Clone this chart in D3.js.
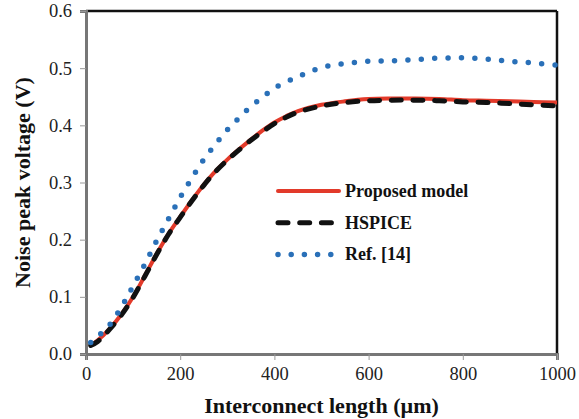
<!DOCTYPE html>
<html lang="en">
<head>
<meta charset="UTF-8">
<title>Noise peak voltage vs interconnect length</title>
<script src="https://d3js.org/d3.v7.min.js"></script>
<style>
    body, html {
        margin: 0;
        background: #fff;
    }
    svg {
        display: block;
    }
    svg text {
        font-family: "Liberation Serif", "Times New Roman", Times, serif;
    }
    .tick text {
        font-size: 18.5px;
        fill: #222;
    }
    .title {
        font-size: 22px;
        font-weight: bold;
        fill: #111;
    }
    .legend text {
        font-size: 18px;
        font-weight: bold;
        fill: #111;
    }
</style>
</head>
<body>
<script>
    // interconnect length (um) and noise peak voltage (V)
    const proposedX = [10, 25, 50, 75, 100, 125, 150, 175, 200, 225, 250, 275, 300, 325, 350, 375, 400, 425, 450, 500, 550, 600, 650, 700, 750, 800, 850, 900, 950, 1000];
    const proposedY = [0.015, 0.024, 0.044, 0.069, 0.100, 0.137, 0.175, 0.210, 0.240, 0.269, 0.296, 0.320, 0.340, 0.358, 0.375, 0.391, 0.405, 0.416, 0.425, 0.436, 0.442, 0.446, 0.447, 0.447, 0.446, 0.444, 0.443, 0.442, 0.441, 0.440];

    const hspiceX = [10, 25, 50, 75, 100, 125, 150, 175, 200, 225, 250, 275, 300, 325, 350, 375, 400, 425, 450, 500, 550, 600, 650, 700, 750, 800, 850, 900, 950, 1000];
    const hspiceY = [0.015, 0.022, 0.043, 0.068, 0.099, 0.136, 0.174, 0.209, 0.239, 0.268, 0.295, 0.319, 0.339, 0.357, 0.374, 0.389, 0.403, 0.414, 0.423, 0.434, 0.440, 0.443, 0.444, 0.444, 0.443, 0.441, 0.440, 0.438, 0.436, 0.434];

    const refX = [10, 50, 80, 100, 125, 150, 175, 200, 225, 250, 275, 300, 325, 350, 375, 400, 450, 500, 550, 600, 650, 700, 750, 800, 850, 900, 950, 1000];
    const refY = [0.020, 0.051, 0.089, 0.119, 0.157, 0.198, 0.236, 0.274, 0.308, 0.340, 0.367, 0.392, 0.413, 0.433, 0.449, 0.465, 0.485, 0.501, 0.508, 0.512, 0.513, 0.515, 0.5175, 0.518, 0.516, 0.512, 0.509, 0.505];

    const xTicks = [0, 200, 400, 600, 800, 1000];
    const yTicks = [0.0, 0.1, 0.2, 0.3, 0.4, 0.5, 0.6];
    const legendNames = ["Proposed model", "HSPICE", "Ref. [14]"];

    const width = 579, height = 419;
    const margin = {top: 11, right: 22, bottom: 65, left: 86};
    const serif = '"Liberation Serif", "Times New Roman", Times, serif';

    const svg = d3.select("body").append("svg")
        .attr("width", width)
        .attr("height", height);

    const x = d3.scaleLinear().domain([0, 1000]).range([margin.left, width - margin.right]);
    const y = d3.scaleLinear().domain([0, 0.6]).range([height - margin.bottom, margin.top]);

    // top and right frame lines
    svg.append("line")
        .attr("x1", x(0)).attr("x2", x(1000))
        .attr("y1", y(0.6)).attr("y2", y(0.6))
        .attr("stroke", "#111").attr("stroke-width", 2.5);
    svg.append("line")
        .attr("x1", x(1000)).attr("x2", x(1000))
        .attr("y1", y(0.6)).attr("y2", y(0))
        .attr("stroke", "#111").attr("stroke-width", 2.5);

    const xAxis = svg.append("g")
        .attr("transform", `translate(0,${y(0)})`)
        .call(d3.axisBottom(x).tickValues(xTicks).tickSize(6).tickPadding(7).tickFormat(d3.format("d")));
    const yAxis = svg.append("g")
        .attr("transform", `translate(${x(0)},0)`)
        .call(d3.axisLeft(y).tickValues(yTicks).tickSize(6).tickPadding(8).tickFormat(d3.format(".1f")));

    [xAxis, yAxis].forEach(a => {
        a.attr("font-family", serif).attr("font-size", 18.5);
        a.select(".domain").attr("stroke", "#777").attr("stroke-width", 3);
        a.selectAll(".tick line").attr("stroke", "#999").attr("stroke-width", 1);
    });

    const line = d3.line()
        .x(d => x(d[0]))
        .y(d => y(d[1]))
        .curve(d3.curveCatmullRom);

    svg.append("path")
        .datum(proposedX.map((v, i) => [v, proposedY[i]]))
        .attr("d", line)
        .attr("fill", "none")
        .attr("stroke", "#e23a2a")
        .attr("stroke-width", 4);

    svg.append("path")
        .datum(hspiceX.map((v, i) => [v, hspiceY[i]]))
        .attr("d", line)
        .attr("fill", "none")
        .attr("stroke", "#111")
        .attr("stroke-width", 5)
        .attr("stroke-linecap", "round")
        .attr("stroke-dasharray", "10 11.7");

    svg.append("path")
        .datum(refX.map((v, i) => [v, refY[i]]))
        .attr("d", line)
        .attr("fill", "none")
        .attr("stroke", "#2a70b8")
        .attr("stroke-width", 5.5)
        .attr("stroke-linecap", "round")
        .attr("stroke-dasharray", "0 13.4");

    // legend
    const legend = svg.append("g").attr("class", "legend");
    const legendStyles = [
        {stroke: "#e23a2a", width: 4, dash: null, x2: 339},
        {stroke: "#111", width: 5, dash: "10 11.7", x2: 334},
        {stroke: "#2a70b8", width: 5.5, dash: "0 13.2", x2: 332}
    ];
    legendNames.forEach((name, i) => {
        const ly = 191 + i * 31.7;
        const s = legendStyles[i];
        legend.append("line")
            .attr("x1", 278).attr("x2", s.x2)
            .attr("y1", ly).attr("y2", ly)
            .attr("stroke", s.stroke)
            .attr("stroke-width", s.width)
            .attr("stroke-linecap", "round")
            .attr("stroke-dasharray", s.dash);
        legend.append("text")
            .attr("x", 345)
            .attr("y", ly + 6)
            .attr("font-family", serif)
            .text(name);
    });

    // axis titles
    svg.append("text")
        .attr("class", "title")
        .attr("font-family", serif)
        .attr("x", (x(0) + x(1000)) / 2)
        .attr("y", 413)
        .attr("text-anchor", "middle")
        .text("Interconnect length (µm)");

    svg.append("text")
        .attr("class", "title")
        .attr("font-family", serif)
        .attr("transform", `translate(30,${(y(0) + y(0.6)) / 2}) rotate(-90)`)
        .attr("text-anchor", "middle")
        .text("Noise peak voltage (V)");
</script>
</body>
</html>
